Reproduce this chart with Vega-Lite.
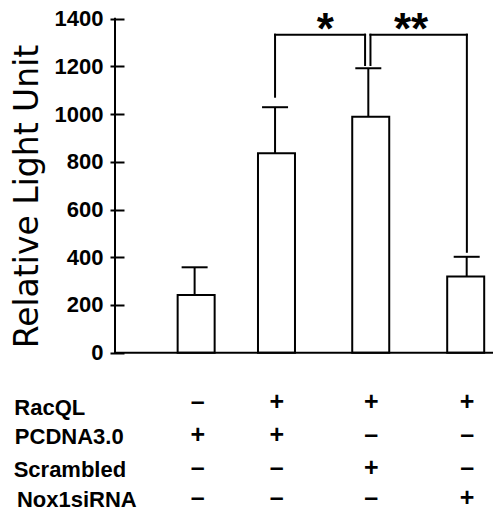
{
  "$schema": "https://vega.github.io/schema/vega-lite/v6.json",
  "width": 387,
  "height": 517,
  "autosize": {"type": "none"},
  "padding": {"left": 110, "top": 0, "right": 0, "bottom": 0},
  "background": "white",
  "config": {
    "view": {"stroke": null},
    "axisY": {
      "domain": false, "grid": false,
      "tickSize": -14, "tickWidth": 2, "tickColor": "black",
      "labelFont": "Liberation Sans", "labelFontWeight": "bold", "labelFontSize": 22, "labelColor": "black",
      "labelPadding": 21,
      "titleFont": "DejaVu Sans", "titleFontSize": 33, "titleFontWeight": "normal", "titleColor": "black",
      "titleX": -73, "titleY": 196, "titleAngle": -90, "titleAlign": "center", "titleBaseline": "alphabetic"
    }
  },
  "datasets": {
    "bars": [
      {"group": "1", "cx": 0.904, "ex": 0.887, "v": 242, "hi": 358},
      {"group": "2", "cx": 1.799, "ex": 1.783, "v": 836, "hi": 1029},
      {"group": "3", "cx": 2.849, "ex": 2.822, "v": 989, "hi": 1192},
      {"group": "4", "cx": 3.907, "ex": 3.918, "v": 319, "hi": 402}
    ],
    "segments": [
      {"x": 0, "y": 0, "x2": 0, "y2": 1400},
      {"x": 0, "y": 0, "x2": 4.2, "y2": 0},
      {"x": 1.783, "y": 1073, "x2": 1.783, "y2": 1333},
      {"x": 1.783, "y": 1333, "x2": 2.786, "y2": 1333},
      {"x": 2.786, "y": 1333, "x2": 2.786, "y2": 1206},
      {"x": 2.846, "y": 1206, "x2": 2.846, "y2": 1333},
      {"x": 2.846, "y": 1333, "x2": 3.92, "y2": 1333},
      {"x": 3.92, "y": 1333, "x2": 3.92, "y2": 423}
    ],
    "stars": [
      {"x": 2.344, "y": 1294, "text": "*"},
      {"x": 3.299, "y": 1294, "text": "**"}
    ],
    "labels": [
      {"x": -1.122, "y": -261.1, "text": "RacQL"},
      {"x": -1.116, "y": -384.0, "text": "PCDNA3.0"},
      {"x": -1.129, "y": -519.8, "text": "Scrambled"},
      {"x": -1.093, "y": -645.5, "text": "Nox1siRNA"}
    ],
    "signs": [
      {"x": 0.922, "y": -206.6, "s": "–"},
      {"x": 1.802, "y": -206.6, "s": "+"},
      {"x": 2.854, "y": -206.6, "s": "+"},
      {"x": 3.923, "y": -206.6, "s": "+"},
      {"x": 0.922, "y": -345.0, "s": "+"},
      {"x": 1.802, "y": -345.0, "s": "+"},
      {"x": 2.854, "y": -345.0, "s": "–"},
      {"x": 3.923, "y": -345.0, "s": "–"},
      {"x": 0.922, "y": -485.4, "s": "–"},
      {"x": 1.802, "y": -485.4, "s": "–"},
      {"x": 2.854, "y": -485.4, "s": "+"},
      {"x": 3.923, "y": -485.4, "s": "–"},
      {"x": 0.922, "y": -611.1, "s": "–"},
      {"x": 1.802, "y": -611.1, "s": "–"},
      {"x": 2.854, "y": -611.1, "s": "–"},
      {"x": 3.923, "y": -611.1, "s": "+"}
    ]
  },
  "layer": [
    {
      "data": {"name": "bars"},
      "mark": {"type": "bar", "width": 37, "fill": "white", "stroke": "black", "strokeWidth": 2},
      "encoding": {
        "x": {"field": "cx", "type": "quantitative", "scale": {"domain": [0, 4.2], "nice": false, "zero": false}, "axis": null},
        "y": {
          "field": "v", "type": "quantitative",
          "scale": {"domain": [-688.7, 1478.4], "nice": false, "zero": false},
          "axis": {
            "title": "Relative Light Unit",
            "values": [0, 200, 400, 600, 800, 1000, 1200, 1400],
            "format": "d"
          }
        },
        "y2": {"datum": 0}
      }
    },
    {
      "data": {"name": "bars"},
      "mark": {"type": "rule", "color": "black", "strokeWidth": 2},
      "encoding": {
        "x": {"field": "ex", "type": "quantitative", "axis": null},
        "y": {"field": "v", "type": "quantitative"},
        "y2": {"field": "hi"}
      }
    },
    {
      "data": {"name": "bars"},
      "mark": {"type": "tick", "orient": "horizontal", "size": 26, "thickness": 2, "color": "black", "opacity": 1},
      "encoding": {
        "x": {"field": "ex", "type": "quantitative", "axis": null},
        "y": {"field": "hi", "type": "quantitative"}
      }
    },
    {
      "data": {"name": "segments"},
      "mark": {"type": "rule", "color": "black", "strokeWidth": 2, "strokeCap": "square"},
      "encoding": {
        "x": {"field": "x", "type": "quantitative", "axis": null},
        "y": {"field": "y", "type": "quantitative"},
        "x2": {"field": "x2"},
        "y2": {"field": "y2"}
      }
    },
    {
      "data": {"name": "stars"},
      "mark": {"type": "text", "font": "Liberation Sans", "fontWeight": "bold", "fontSize": 44, "align": "center", "baseline": "alphabetic", "color": "black"},
      "encoding": {
        "x": {"field": "x", "type": "quantitative", "axis": null},
        "y": {"field": "y", "type": "quantitative"},
        "text": {"field": "text"}
      }
    },
    {
      "data": {"name": "labels"},
      "mark": {"type": "text", "font": "Liberation Sans", "fontWeight": "bold", "fontSize": 22, "align": "left", "baseline": "alphabetic", "color": "black"},
      "encoding": {
        "x": {"field": "x", "type": "quantitative", "axis": null},
        "y": {"field": "y", "type": "quantitative"},
        "text": {"field": "text"}
      }
    },
    {
      "data": {"name": "signs"},
      "mark": {"type": "text", "font": "Liberation Sans", "fontWeight": "bold", "fontSize": 25, "align": "center", "baseline": "middle", "color": "black"},
      "encoding": {
        "x": {"field": "x", "type": "quantitative", "axis": null},
        "y": {"field": "y", "type": "quantitative"},
        "text": {"field": "s"}
      }
    }
  ]
}
